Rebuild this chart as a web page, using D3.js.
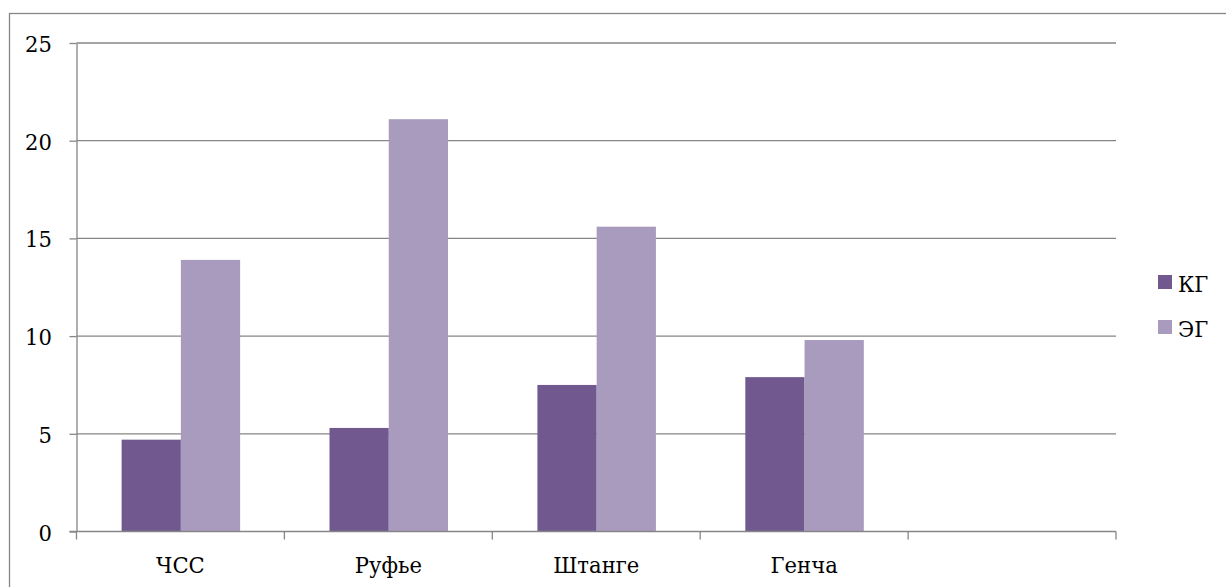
<!DOCTYPE html>
<html>
<head>
<meta charset="utf-8">
<script src="https://cdn.jsdelivr.net/npm/d3@7"></script>
<style>
  html, body { margin: 0; padding: 0; background: #fff; }
  svg { display: block; }
</style>
</head>
<body>
<svg id="chart" width="1226" height="587"></svg>
<script>
// Categories (the last slot is left empty on the axis)
const categories = ["ЧСС", "Руфье", "Штанге", "Генча", ""];
const seriesNames = ["КГ", "ЭГ"];
const valuesKG = [4.7, 5.3, 7.5, 7.9];
const valuesEG = [13.9, 21.1, 15.6, 9.8];
const yTicks = [0, 5, 10, 15, 20, 25];
const colors = ["#71588f", "#a99bbd"];

const FONT = "'DejaVu Serif', serif";
const FONT_SIZE = 23;
const SQUEEZE = 0.92;   // slight horizontal condensing of the serif face

const svg = d3.select("#chart");
const gridColor = "#868686";

function styleText(sel) {
  return sel.attr("fill", "#000")
    .style("font-family", FONT)
    .style("font-size", FONT_SIZE + "px");
}

// Outer chart frame (runs off the right and bottom edges)
svg.append("rect")
  .attr("x", 9.5).attr("y", 13.5)
  .attr("width", 1300).attr("height", 700)
  .attr("fill", "none").attr("stroke", gridColor).attr("stroke-width", 1.3);

const plot = { left: 76.5, right: 1116, top: 43, bottom: 531.5 };

const x = d3.scaleBand().domain(categories).range([plot.left, plot.right]).padding(0);
const xs = d3.scaleBand().domain(seriesNames)
  .range([x.bandwidth() * 0.217, x.bandwidth() * 0.787]).padding(0);
const y = d3.scaleLinear().domain([0, 25]).range([plot.bottom, plot.top]);

// Horizontal gridlines
svg.append("g").selectAll("line")
  .data(yTicks.filter(v => v > 0))
  .join("line")
  .attr("x1", plot.left).attr("x2", plot.right)
  .attr("y1", d => y(d)).attr("y2", d => y(d))
  .attr("stroke", gridColor).attr("stroke-width", 1.3);

// Bars
const rows = categories.slice(0, valuesKG.length).map((c, i) => ({
  cat: c, vals: [valuesKG[i], valuesEG[i]]
}));
const groups = svg.append("g").selectAll("g")
  .data(rows).join("g")
  .attr("transform", d => `translate(${x(d.cat)},0)`);
groups.selectAll("rect")
  .data(d => d.vals.map((v, j) => ({ name: seriesNames[j], v, j })))
  .join("rect")
  .attr("x", d => xs(d.name))
  .attr("width", xs.bandwidth())
  .attr("y", d => y(d.v))
  .attr("height", d => y(0) - y(d.v))
  .attr("fill", d => colors[d.j]);

// Y axis
const yAxis = svg.append("g")
  .attr("transform", `translate(${plot.left},0)`)
  .call(d3.axisLeft(y).tickValues(yTicks).tickSize(7).tickSizeOuter(0).tickPadding(17))
  .attr("font-family", null)
  .attr("font-size", null);
yAxis.select(".domain").attr("stroke", gridColor).attr("stroke-width", 1.3);
yAxis.selectAll(".tick line").attr("stroke", gridColor).attr("stroke-width", 1.3);
yAxis.selectAll(".tick text")
  .call(styleText)
  .attr("x", 0)
  .attr("dy", "0.37em")
  .attr("transform", `translate(-24.5,0) scale(${SQUEEZE},1)`);

// X axis line and category boundary ticks
svg.append("line")
  .attr("x1", plot.left - 7).attr("x2", plot.right)
  .attr("y1", plot.bottom).attr("y2", plot.bottom)
  .attr("stroke", gridColor).attr("stroke-width", 1.3);
const bounds = categories.map(c => x(c)).concat([plot.right]);
svg.append("g").selectAll("line")
  .data(bounds).join("line")
  .attr("x1", d => d).attr("x2", d => d)
  .attr("y1", plot.bottom).attr("y2", plot.bottom + 8)
  .attr("stroke", gridColor).attr("stroke-width", 1.3);

// Category labels
svg.append("g")
  .selectAll("text")
  .data(categories.filter(c => c !== ""))
  .join("text")
  .attr("transform", d => `translate(${x(d) + x.bandwidth() / 2},573) scale(${SQUEEZE},1)`)
  .attr("text-anchor", "middle")
  .call(styleText)
  .text(d => d);

// Legend
const legend = svg.append("g")
  .selectAll("g")
  .data(seriesNames).join("g")
  .attr("transform", (d, i) => `translate(1158,${275 + i * 45})`);
legend.append("rect")
  .attr("width", 14).attr("height", 14)
  .attr("fill", (d, i) => colors[i]);
legend.append("text")
  .attr("transform", `translate(20,17) scale(${SQUEEZE},1)`)
  .call(styleText)
  .text(d => d);
</script>
</body>
</html>
